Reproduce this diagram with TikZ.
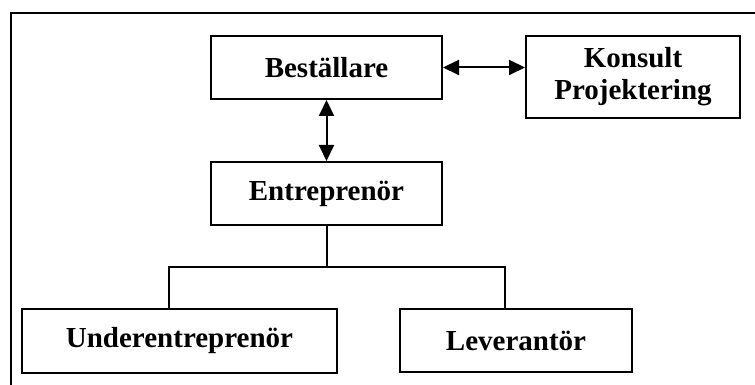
\documentclass[tikz,border=0pt]{standalone}
\usepackage{fontspec}
\setmainfont{Liberation Serif}
\usetikzlibrary{arrows.meta}
\begin{document}
\begin{tikzpicture}[x=1pt,y=-1pt,
  box/.style={draw,line width=2pt,rectangle,inner sep=0pt,align=center,
    font=\fontsize{29}{32}\selectfont\bfseries},
  link/.style={line width=2pt},
  twoway/.style={link,{Triangle[length=16pt,width=15pt]}-{Triangle[length=16pt,width=15pt]}}]
  \useasboundingbox (0,0) rectangle (755,385);
  % page frame (top and left edges)
  \draw[line width=2.2pt] (11,385) -- (11,13) -- (755,13);
  % boxes
  \node[box,minimum width=231pt,minimum height=63pt] (best) at (326.5,67.5) {Beställare};
  \node[box,minimum width=214pt,minimum height=82pt] (kons) at (633,77) {Konsult\\Projektering};
  \node[box,minimum width=231pt,minimum height=63pt] (entr) at (326.5,193.5) {Entreprenör};
  \node[box,minimum width=315pt,minimum height=64pt] (under) at (179.5,341) {Underentreprenör};
  \node[box,minimum width=232pt,minimum height=63pt] (lever) at (516,340.5) {Leverantör};
  % two-way links
  \draw[twoway] (best.east) -- (best.east -| kons.west);
  \draw[twoway] (best.south) -- (entr.north);
  % tree from Entreprenör to the two lower boxes
  \coordinate (jn) at (326.5,267);
  \coordinate (ul) at (169,267);
  \coordinate (lr) at (505,267);
  \draw[link] (entr.south) -- (jn);
  \draw[link] (under.north -| ul) -- (ul) -- (lr) -- (lever.north -| lr);
\end{tikzpicture}
\end{document}
